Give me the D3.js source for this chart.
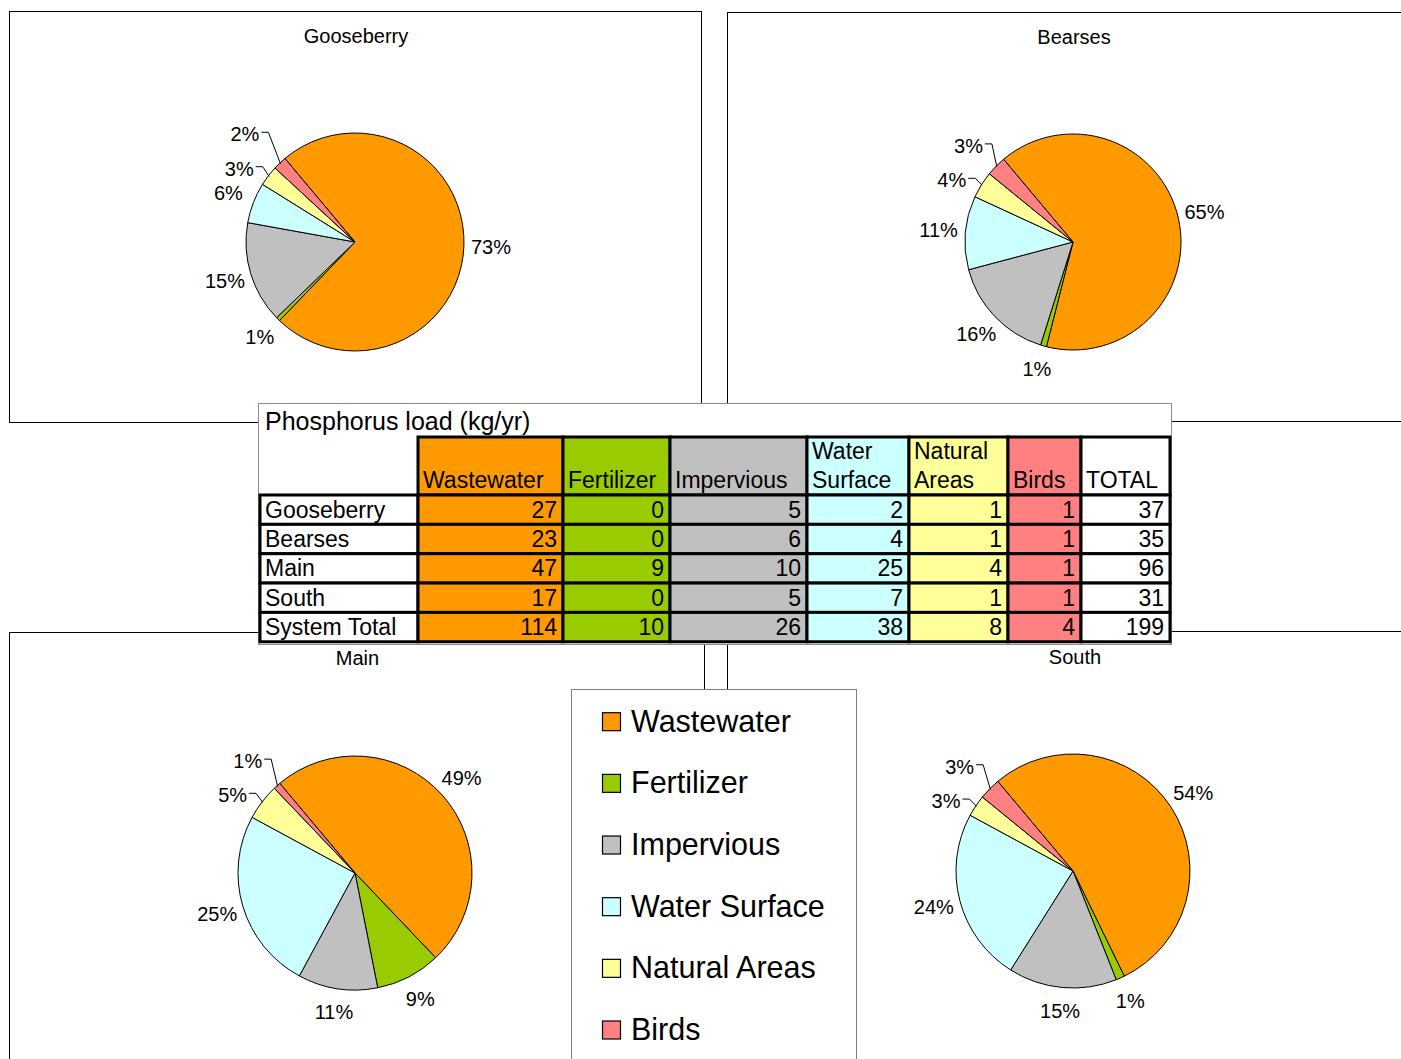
<!DOCTYPE html>
<html lang="en">
<head>
<meta charset="UTF-8" />
<title>Phosphorus load (kg/yr)</title>
<script src="https://cdnjs.cloudflare.com/ajax/libs/d3/7.8.5/d3.min.js"></script>
<style>
  body { margin: 0; background: #fff; }
  svg { display: block; font-family: "Liberation Sans", Arial, Helvetica, sans-serif; }
  .box { fill: #fff; stroke: #000; stroke-width: 1px; }
  .pie-title { font-size: 20px; text-anchor: middle; }
  .pct { font-size: 20px; text-anchor: middle; }
  .slice { stroke: #000; stroke-width: 1px; }
  .leader { fill: none; stroke: #000; stroke-width: 1px; }
  .tbl-frame { fill: #fff; stroke: #8c8c8c; stroke-width: 1px; }
  .tbl-title { font-size: 25px; }
  .cell { stroke: #000; stroke-width: 3px; }
  .tbl-text { font-size: 23px; }
  .legend-frame { fill: #fff; stroke: #808080; stroke-width: 1px; }
  .legend-swatch { stroke: #000; stroke-width: 1.2px; }
  .legend-text { font-size: 30.5px; }
</style>
</head>
<body>
<svg width="1401" height="1059"></svg>
<script>
// sources, same order in table, pies and legend
const categories = ["Wastewater", "Fertilizer", "Impervious", "Water Surface", "Natural Areas", "Birds"];
const colors = ["#ff9900", "#99cc00", "#c0c0c0", "#ccffff", "#ffff99", "#ff8080"];

// table (kg/yr)
const rowNames = ["Gooseberry", "Bearses", "Main", "South", "System Total"];
const wastewater = [27, 23, 47, 17, 114];
const fertilizer = [0, 0, 9, 0, 10];
const impervious = [5, 6, 10, 5, 26];
const waterSurface = [2, 4, 25, 7, 38];
const naturalAreas = [1, 1, 4, 1, 8];
const birds = [1, 1, 1, 1, 4];
const totals = [37, 35, 96, 31, 199];

// pie shares (%)
const gooseberryShare = [73, 0.6, 15, 6, 3, 2];
const bearsesShare = [65, 0.9, 16, 11, 4, 3];
const mainShare = [49, 9, 11, 25, 5, 1];
const southShare = [54, 1.2, 15, 24, 3, 3];

const svg = d3.select("svg");

// chart boxes
const panels = [
  { name: "Gooseberry", share: gooseberryShare, x0: 9, y0: 11, x1: 701, y1: 422, titleY: 36, cx: 355, cy: 242, r: 109 },
  { name: "Bearses", share: bearsesShare, x0: 727, y0: 12, x1: 1419, y1: 421, titleY: 37, cx: 1073, cy: 242, r: 108 },
  { name: "Main", share: mainShare, x0: 9, y0: 632, x1: 704, y1: 1100, titleY: 658, cx: 355, cy: 873, r: 117 },
  { name: "South", share: southShare, x0: 727, y0: 631, x1: 1421, y1: 1100, titleY: 657, cx: 1073, cy: 871, r: 117 }
];

const toRad = Math.PI / 180;
const startA = -40 * toRad;
const pie = d3.pie().sort(null).value(d => d)
  .startAngle(startA).endAngle(startA + 2 * Math.PI);
const pctFmt = d3.format(".0%");

panels.forEach(p => {
  const g = svg.append("g");
  g.append("rect").attr("class", "box")
    .attr("x", p.x0 + 0.5).attr("y", p.y0 + 0.5)
    .attr("width", p.x1 - p.x0).attr("height", p.y1 - p.y0);
  g.append("text").attr("class", "pie-title")
    .attr("x", (p.x0 + p.x1) / 2 + 1).attr("y", p.titleY).attr("dy", "0.35em")
    .text(p.name);

  const arc = d3.arc().innerRadius(0).outerRadius(p.r);
  const arcs = pie(p.share);
  const sum = d3.sum(p.share);
  const pg = g.append("g").attr("transform", `translate(${p.cx},${p.cy})`);

  pg.selectAll("path.slice").data(arcs).join("path")
    .attr("class", "slice")
    .attr("fill", (d, i) => colors[i])
    .attr("d", arc);

  // labels outside the rim; small upper-left ones get stacked with leaders
  let prev = null;
  arcs.forEach((a, i) => {
    const mid = (a.startAngle + a.endAngle) / 2;
    const deg = ((mid / toRad) % 360 + 360) % 360;
    const lead = a.value / sum < 0.06 && deg > 270;
    let ang = mid, dist;
    if (!lead) {
      dist = p.r + 23 + 4 * Math.abs(Math.sin(mid));
    } else if (!prev || !prev.lead) {
      ang = mid - 5 * toRad;
      dist = p.r + 28;
    } else {
      ang = mid - 2 * toRad;
      dist = p.r + 28;
      while (prev.y + Math.cos(ang) * dist < 34) dist += 1;
    }
    const sx = Math.sin(ang), sy = -Math.cos(ang);
    const x = sx * dist, y = sy * dist;
    const t = pg.append("text").attr("class", "pct")
      .attr("x", x).attr("y", y).attr("dy", "0.35em")
      .text(pctFmt(a.value / sum));
    if (lead) {
      const w = t.node().getComputedTextLength();
      const ex = Math.sin(mid) * (p.r - 1), ey = -Math.cos(mid) * (p.r - 1);
      pg.append("path").attr("class", "leader")
        .attr("d", `M${x + w / 2 + 2},${y - 2}H${x + w / 2 + 9}L${ex},${ey}`);
    }
    prev = { x, y, lead };
  });
});

// data table
const columns = [wastewater, fertilizer, impervious, waterSurface, naturalAreas, birds];
const colW = [158, 145, 107, 137, 102, 99, 73, 89];
const colX = [260, ...d3.cumsum(colW).map(v => 260 + v)];
const headY = 437, headH = 58, rowH = 29.35;

const tg = svg.append("g");
tg.append("rect").attr("class", "tbl-frame")
  .attr("x", 258.5).attr("y", 403.5).attr("width", 913).attr("height", 241);
tg.append("text").attr("class", "tbl-title")
  .attr("x", 265).attr("y", 429.5).text("Phosphorus load (kg/yr)");

const headers = [...categories, "TOTAL"];
headers.forEach((h, j) => {
  const x = colX[j + 1], w = colW[j + 1];
  tg.append("rect").attr("class", "cell")
    .attr("x", x).attr("y", headY).attr("width", w).attr("height", headH)
    .attr("fill", j < categories.length ? colors[j] : "#fff");
  const t = tg.append("text").attr("class", "tbl-text")
    .attr("x", x + 5).attr("y", headY + headH - 6.7).text(h);
  if (t.node().getComputedTextLength() > w - 8) {
    const words = h.split(" ");
    t.text(null);
    words.forEach((wd, k) => {
      t.append("tspan").attr("x", x + 5)
        .attr("y", headY + headH - 6.7 - (words.length - 1 - k) * 29).text(wd);
    });
  }
});

rowNames.forEach((name, i) => {
  const y = headY + headH + i * rowH;
  const vals = [...columns.map(c => c[i]), totals[i]];
  tg.append("rect").attr("class", "cell")
    .attr("x", colX[0]).attr("y", y).attr("width", colW[0]).attr("height", rowH)
    .attr("fill", "#fff");
  tg.append("text").attr("class", "tbl-text")
    .attr("x", colX[0] + 5).attr("y", y + rowH - 6.7).text(name);
  vals.forEach((v, j) => {
    tg.append("rect").attr("class", "cell")
      .attr("x", colX[j + 1]).attr("y", y).attr("width", colW[j + 1]).attr("height", rowH)
      .attr("fill", j < categories.length ? colors[j] : "#fff");
    tg.append("text").attr("class", "tbl-text")
      .attr("x", colX[j + 2] - 6).attr("y", y + rowH - 6.7)
      .attr("text-anchor", "end").text(v);
  });
});

// legend
const lg = svg.append("g");
lg.append("rect").attr("class", "legend-frame")
  .attr("x", 571.5).attr("y", 689.5).attr("width", 285).attr("height", 420);
const ly = d3.scaleLinear().domain([0, categories.length - 1]).range([712.7, 1021]);
const items = lg.selectAll("g.item").data(categories).join("g")
  .attr("class", "item")
  .attr("transform", (d, i) => `translate(0,${ly(i)})`);
items.append("rect").attr("class", "legend-swatch")
  .attr("x", 602.5).attr("y", 0).attr("width", 18).attr("height", 18)
  .attr("fill", (d, i) => colors[i]);
items.append("text").attr("class", "legend-text")
  .attr("x", 631).attr("y", 19).text(d => d);
</script>
</body>
</html>
